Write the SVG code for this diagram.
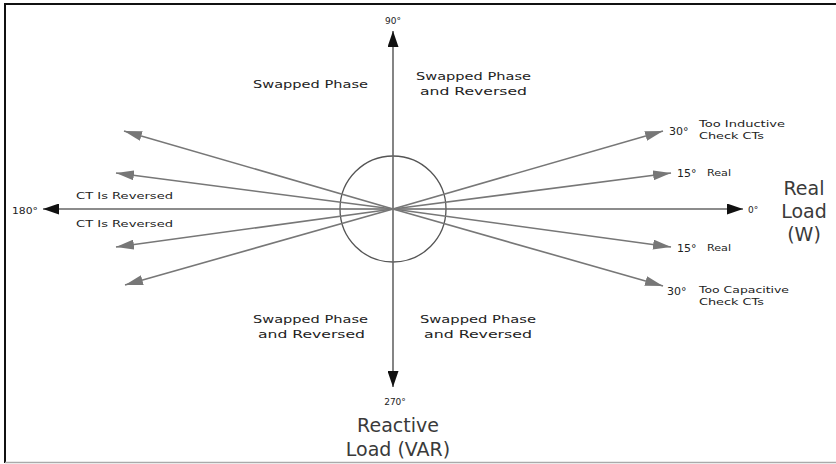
<svg xmlns="http://www.w3.org/2000/svg" width="836" height="464" viewBox="0 0 836 464">
<defs>
<style>
.t{font-family:"DejaVu Sans","Liberation Sans",sans-serif;fill:#222;}
.s{font-size:11px;}
.xs{font-size:9px;}
.big{font-family:"DejaVu Sans","Liberation Sans",sans-serif;fill:#3a3a3a;font-size:19px;font-weight:normal;}
.axis{stroke:#666;stroke-width:1.6;fill:none;}
.ray{stroke:#777;stroke-width:1.6;fill:none;}
</style>
<marker id="ah" viewBox="0 0 16 11" refX="16" refY="5.5" markerWidth="16" markerHeight="11" markerUnits="userSpaceOnUse" orient="auto">
<path d="M0,0 L16,5.5 L0,11 Z" fill="#111"/>
</marker>
<marker id="gh" viewBox="0 0 18 10" refX="18" refY="5" markerWidth="18" markerHeight="10" markerUnits="userSpaceOnUse" orient="auto">
<path d="M0,0 L18,5 L0,10 Z" fill="#777"/>
</marker>
</defs>
<rect width="836" height="464" fill="#fff"/>
<g id="frame">
<line x1="4" y1="4" x2="836" y2="4" stroke="#111" stroke-width="2"/>
<line x1="5" y1="4" x2="5" y2="463" stroke="#111" stroke-width="2"/>
<line x1="5" y1="462.5" x2="836" y2="462.5" stroke="#aaa" stroke-width="1.5"/>
</g>
<g id="circle"><circle cx="393" cy="209" r="53" fill="none" stroke="#555" stroke-width="1.3"/></g>
<g id="connectors">
<line class="axis" x1="393" y1="209" x2="393" y2="31" marker-end="url(#ah)"/>
<line class="axis" x1="393" y1="209" x2="393" y2="387" marker-end="url(#ah)"/>
<line class="axis" x1="393" y1="209" x2="743" y2="209" marker-end="url(#ah)" stroke="#444"/>
<line class="axis" x1="393" y1="209" x2="43" y2="209" marker-end="url(#ah)" stroke="#444"/>
<line class="ray" x1="393" y1="209" x2="663" y2="131" marker-end="url(#gh)"/>
<line class="ray" x1="393" y1="209" x2="671" y2="173" marker-end="url(#gh)"/>
<line class="ray" x1="393" y1="209" x2="671" y2="247" marker-end="url(#gh)"/>
<line class="ray" x1="393" y1="209" x2="663" y2="286" marker-end="url(#gh)"/>
<line class="ray" x1="393" y1="209" x2="124" y2="131" marker-end="url(#gh)"/>
<line class="ray" x1="393" y1="209" x2="116" y2="173" marker-end="url(#gh)"/>
<line class="ray" x1="393" y1="209" x2="116" y2="247" marker-end="url(#gh)"/>
<line class="ray" x1="393" y1="209" x2="125" y2="285" marker-end="url(#gh)"/>
</g>
<g id="label-90"><text class="t xs" x="393" y="24" text-anchor="middle">90°</text></g>
<g id="label-270"><text class="t xs" x="395" y="405" text-anchor="middle">270°</text></g>
<g id="label-0"><text class="t xs" x="748" y="213">0°</text></g>
<g id="label-180"><text class="t xs" x="12" y="214" textLength="26" lengthAdjust="spacingAndGlyphs">180°</text></g>
<g id="real-load">
<text class="big" x="804" y="195" text-anchor="middle">Real</text>
<text class="big" x="804" y="218" text-anchor="middle">Load</text>
<text class="big" x="804" y="241" text-anchor="middle">(W)</text>
</g>
<g id="reactive-load">
<text class="big" x="398" y="432" text-anchor="middle">Reactive</text>
<text class="big" x="398" y="456" text-anchor="middle">Load (VAR)</text>
</g>
<g id="q-upper-left"><text class="t s" x="253" y="88" textLength="115" lengthAdjust="spacingAndGlyphs">Swapped Phase</text></g>
<g id="q-upper-right">
<text class="t s" x="416" y="80" textLength="115" lengthAdjust="spacingAndGlyphs">Swapped Phase</text>
<text class="t s" x="420" y="95" textLength="107" lengthAdjust="spacingAndGlyphs">and Reversed</text>
</g>
<g id="q-lower-left">
<text class="t s" x="253" y="323" textLength="115" lengthAdjust="spacingAndGlyphs">Swapped Phase</text>
<text class="t s" x="258" y="338" textLength="107" lengthAdjust="spacingAndGlyphs">and Reversed</text>
</g>
<g id="q-lower-right">
<text class="t s" x="420" y="323" textLength="116" lengthAdjust="spacingAndGlyphs">Swapped Phase</text>
<text class="t s" x="424" y="338" textLength="108" lengthAdjust="spacingAndGlyphs">and Reversed</text>
</g>
<g id="ct-reversed">
<text class="t xs" x="76" y="199" textLength="97" lengthAdjust="spacingAndGlyphs">CT Is Reversed</text>
<text class="t xs" x="76" y="227" textLength="97" lengthAdjust="spacingAndGlyphs">CT Is Reversed</text>
</g>
<g id="ray-30-up">
<text class="t s" x="669" y="135">30°</text>
<text class="t xs" x="699" y="127" textLength="86" lengthAdjust="spacingAndGlyphs">Too Inductive</text>
<text class="t xs" x="699" y="139" textLength="65" lengthAdjust="spacingAndGlyphs">Check CTs</text>
</g>
<g id="ray-15-up">
<text class="t s" x="677" y="177">15°</text>
<text class="t xs" x="707" y="176" textLength="24" lengthAdjust="spacingAndGlyphs">Real</text>
</g>
<g id="ray-15-down">
<text class="t s" x="677" y="252">15°</text>
<text class="t xs" x="707" y="251" textLength="24" lengthAdjust="spacingAndGlyphs">Real</text>
</g>
<g id="ray-30-down">
<text class="t s" x="667" y="295">30°</text>
<text class="t xs" x="699" y="293" textLength="90" lengthAdjust="spacingAndGlyphs">Too Capacitive</text>
<text class="t xs" x="699" y="305" textLength="65" lengthAdjust="spacingAndGlyphs">Check CTs</text>
</g>
</svg>
